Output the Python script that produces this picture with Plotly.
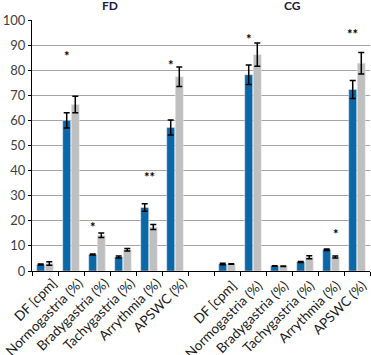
import plotly.graph_objects as go

categories = ["DF [cpm]", "Normogastria (%)", "Bradygastria (%)", "Tachygastria (%)",
              "Arrythmia (%)", "APSWC (%)", "\u200b",
              "DF [cpm] ", "Normogastria (%) ", "Bradygastria (%) ", "Tachygastria (%) ",
              "Arrythmia (%) ", "APSWC (%) "]

blue_vals = [2.6, 60.0, 6.6, 5.6, 25.3, 57.2, None, 2.8, 78.2, 2.0, 3.6, 8.5, 72.3]
blue_err  = [0.2, 3.0, 0.2, 0.4, 1.5, 3.0, None, 0.3, 3.9, 0.1, 0.2, 0.3, 3.6]
gray_vals = [3.0, 66.3, 14.2, 8.5, 17.5, 77.4, None, 2.8, 86.2, 1.9, 5.5, 5.6, 82.8]
gray_err  = [0.7, 3.3, 0.9, 0.5, 1.0, 3.9, None, 0.1, 4.6, 0.1, 0.6, 0.4, 4.3]

star_cats = [1, 2, 4, 5, 8, 11, 12]
star_text = ["*", "*", "**", "*", "*", "*", "**"]
star_y    = [85.6, 17.4, 37.5, 82.0, 92.3, 14.9, 94.3]
star_side = [-1, -1, 0, -1, -1, 1, -1]

group_titles = ["FD", "CG"]
group_pos = [2.5, 9.5]

yticks = list(range(0, 101, 10))

fig = go.Figure()
fig.add_trace(go.Bar(x=categories, y=blue_vals, marker_color="#0b67a5",
                     error_y=dict(type="data", array=blue_err, color="black", thickness=1.5, width=3)))
fig.add_trace(go.Bar(x=categories, y=gray_vals, marker_color="#bfbfbf",
                     error_y=dict(type="data", array=gray_err, color="black", thickness=1.5, width=3)))

for c, t, y, s in zip(star_cats, star_text, star_y, star_side):
    fig.add_annotation(x=c, y=y, text="<b>%s</b>" % t, showarrow=False, xshift=s * 4.5,
                       font=dict(size=13, color="black", family="Lato"), yanchor="middle")

for t, p in zip(group_titles, group_pos):
    fig.add_annotation(x=p, y=1.0, yref="paper", yshift=5, text="<b>%s</b>" % t, showarrow=False,
                       font=dict(size=12, color="#1a1a40", family="Lato"), yanchor="bottom")

fig.update_layout(
    width=371, height=355,
    margin=dict(l=32, r=1, t=20, b=84),
    plot_bgcolor="white", paper_bgcolor="white",
    showlegend=False,
    barmode="group", bargap=0.34, bargroupgap=0.07,
    font=dict(family="Lato", size=12, color="#404040"),
)
fig.update_xaxes(type="category", categoryorder="array", categoryarray=categories,
                 tickson="boundaries", ticks="outside", ticklen=4, tickcolor="black",
                 showline=True, linecolor="black", linewidth=1, tickangle=-45, automargin=False,
                 ticklabelshift=8, ticklabelstandoff=-2,
                 tickfont=dict(size=13.5, color="#1a1a1a"), showgrid=False)
fig.update_yaxes(range=[0, 100], tickvals=yticks, showgrid=True, gridcolor="#a6a6a6", gridwidth=1,
                 showline=True, linecolor="black", linewidth=1, ticks="outside", ticklen=3,
                 automargin=False,
                 tickcolor="black", zeroline=False, tickfont=dict(size=13, color="#404040"))

fig.write_html("out.html", config={"displayModeBar": False},
               post_script="document.body.style.margin='0';")
